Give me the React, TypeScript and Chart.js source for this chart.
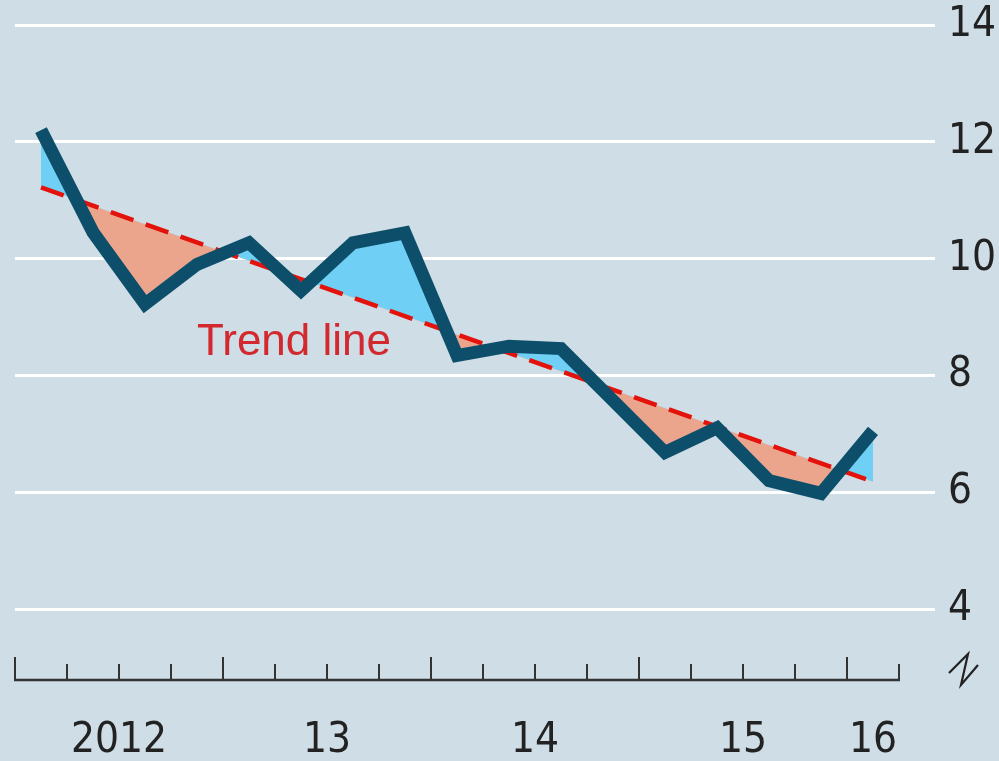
import React, { useEffect, useRef } from "react";
import { Chart, registerables } from "chart.js";

Chart.register(...registerables);

// ---- data ----
const quarters = [
  "2012 Q1", "2012 Q2", "2012 Q3", "2012 Q4",
  "2013 Q1", "2013 Q2", "2013 Q3", "2013 Q4",
  "2014 Q1", "2014 Q2", "2014 Q3", "2014 Q4",
  "2015 Q1", "2015 Q2", "2015 Q3", "2015 Q4",
  "2016 Q1",
];
const values = [12.2, 10.45, 9.22, 9.9, 10.27, 9.45, 10.27, 10.44, 8.34, 8.5, 8.46, 7.57, 6.68, 7.1, 6.2, 5.98, 7.05];
const trendStart = 11.22;
const trendEnd = 6.18;
const yTicks = [4, 6, 8, 10, 12, 14];
const years = ["2012", "2013", "2014", "2015", "2016"];
const yearLabels = ["2012", "13", "14", "15", "16"];
const trendLabel = "Trend line";
const trendLabelAt = { x: 3.0, y: 8.35 };

// ---- styles ----
const BG = "#cedde6";
const LINE = "#0d4f6b";
const ABOVE = "#6fcff4";
const BELOW = "#eca58d";
const TREND = "#e3120b";
const TREND_TEXT = "#d2282e";
const TEXT = "#222222";
const NARROW = "'Liberation Sans Narrow', 'DejaVu Sans Condensed', 'Liberation Sans', sans-serif";
const SANS = "'Liberation Sans', sans-serif";

const yearCenters = years.map((y) => {
  const idx = quarters.map((q, i) => (q.startsWith(y) ? i : -1)).filter((i) => i >= 0);
  return (idx[0] + idx[idx.length - 1]) / 2;
});

const bgPlugin = {
  id: "bg",
  beforeDraw(chart: any) {
    const { ctx, width, height } = chart;
    ctx.save();
    ctx.fillStyle = BG;
    ctx.fillRect(0, 0, width, height);
    ctx.restore();
  },
};

const quarterAxisPlugin = {
  id: "quarterAxis",
  afterDraw(chart: any) {
    const { ctx, chartArea } = chart;
    const xs = chart.scales.x;
    const n = quarters.length;
    const y0 = chartArea.bottom + 71;
    ctx.save();
    ctx.strokeStyle = "#333333";
    ctx.lineWidth = 2.5;
    ctx.lineCap = "butt";
    const left = xs.getPixelForValue(-0.5);
    const right = xs.getPixelForValue(n - 0.5);
    ctx.beginPath();
    ctx.moveTo(left - 1, y0);
    ctx.lineTo(right + 1, y0);
    ctx.stroke();
    ctx.lineWidth = 2;
    for (let k = 0; k <= n; k++) {
      const px = xs.getPixelForValue(k - 0.5);
      const major = k < n && quarters[k].endsWith("Q1");
      const len = major ? 23 : 16;
      ctx.beginPath();
      ctx.moveTo(px, y0);
      ctx.lineTo(px, y0 - len);
      ctx.stroke();
    }
    // axis break symbol
    const bx = chartArea.right + 49;
    ctx.lineWidth = 2.2;
    ctx.strokeStyle = "#222222";
    ctx.beginPath();
    ctx.moveTo(bx + 1, y0 - 7);
    ctx.lineTo(bx + 20, y0 - 26);
    ctx.lineTo(bx + 13, y0 + 5);
    ctx.lineTo(bx + 30, y0 - 15);
    ctx.stroke();
    ctx.restore();
  },
};

const trendLabelPlugin = {
  id: "trendLabel",
  afterDatasetsDraw(chart: any) {
    const { ctx } = chart;
    const xs = chart.scales.x;
    const ys = chart.scales.y;
    ctx.save();
    ctx.font = `44px ${SANS}`;
    ctx.fillStyle = TREND_TEXT;
    ctx.textAlign = "left";
    ctx.textBaseline = "alphabetic";
    ctx.fillText(trendLabel, xs.getPixelForValue(trendLabelAt.x), ys.getPixelForValue(trendLabelAt.y));
    ctx.restore();
  },
};

export default function App() {
  const ref = useRef<HTMLCanvasElement>(null);
  useEffect(() => {
    const chart = new Chart(ref.current as HTMLCanvasElement, {
      type: "line",
      data: {
        datasets: [
          {
            label: "Value",
            data: values.map((v, i) => ({ x: i, y: v })),
            borderColor: LINE,
            borderWidth: 13,
            borderCapStyle: "butt",
            borderJoinStyle: "miter",
            pointRadius: 0,
            tension: 0,
            fill: { target: 1, above: ABOVE, below: BELOW },
          },
          {
            label: "Trend",
            data: [
              { x: 0, y: trendStart },
              { x: quarters.length - 1, y: trendEnd },
            ],
            borderColor: TREND,
            borderWidth: 4.5,
            borderDash: [24, 13],
            pointRadius: 0,
            tension: 0,
            fill: false,
          },
        ],
      },
      options: {
        responsive: false,
        animation: false,
        layout: { padding: { left: 15, top: 25, right: 0, bottom: 0 } },
        plugins: {
          legend: { display: false },
          tooltip: { enabled: false },
          filler: { drawTime: "beforeDatasetsDraw" },
        },
        scales: {
          x: {
            type: "linear",
            min: -0.5,
            max: quarters.length - 0.5,
            position: "bottom",
            grid: { display: false, drawTicks: false },
            border: { display: false },
            afterBuildTicks: (s: any) => {
              s.ticks = yearCenters.map((v) => ({ value: v }));
            },
            afterFit: (s: any) => {
              s.height = 152;
              s.paddingLeft = 0;
              s.paddingRight = 0;
              s.paddingTop = 0;
              s.paddingBottom = 0;
            },
            ticks: {
              callback: (_v: any, i: number) => yearLabels[i],
              padding: 111,
              font: { family: NARROW, size: 42, lineHeight: 1 },
              color: TEXT,
              maxRotation: 0,
              autoSkip: false,
            },
          },
          y: {
            type: "linear",
            position: "right",
            min: 4,
            max: 14,
            afterBuildTicks: (s: any) => {
              s.ticks = yTicks.map((v) => ({ value: v }));
            },
            afterFit: (s: any) => {
              s.width = 100;
              s.paddingLeft = 0;
              s.paddingRight = 0;
              s.paddingTop = 0;
              s.paddingBottom = 0;
            },
            grid: {
              color: "#ffffff",
              lineWidth: 3,
              drawTicks: true,
              tickLength: 36,
              tickColor: "#ffffff",
              tickWidth: 3,
            },
            border: { display: false },
            ticks: {
              padding: 13,
              font: { family: NARROW, size: 42, lineHeight: 1 },
              color: TEXT,
            },
          },
        },
      } as any,
      plugins: [bgPlugin, quarterAxisPlugin, trendLabelPlugin],
    });
    return () => chart.destroy();
  }, []);
  return (
    <div style={{ position: "absolute", left: 0, top: 0, width: 999, height: 761 }}>
      <canvas ref={ref} width={999} height={761} style={{ display: "block" }} />
    </div>
  );
}
